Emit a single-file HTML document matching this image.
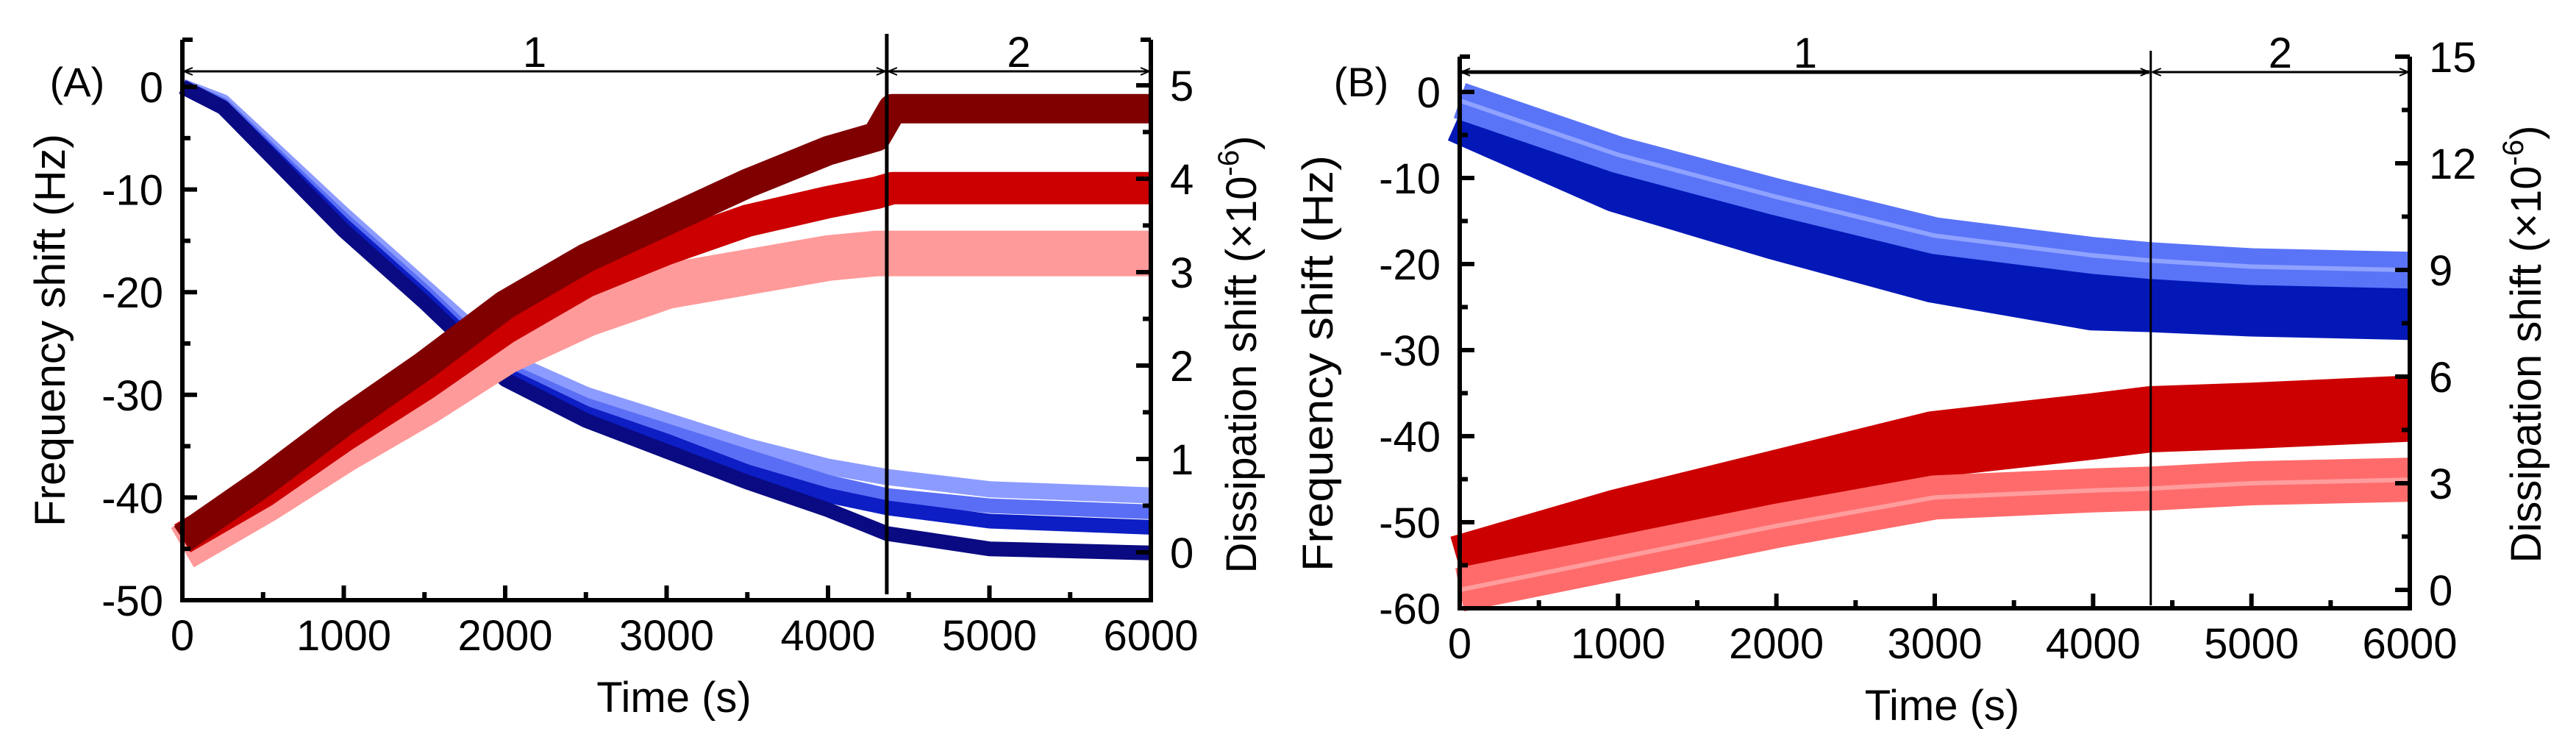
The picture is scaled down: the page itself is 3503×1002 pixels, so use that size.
<!DOCTYPE html>
<html><head><meta charset="utf-8"><style>
html,body{margin:0;padding:0;background:#fff}
svg{display:block}
text{font-family:"Liberation Sans",Arial,sans-serif;fill:#000}
</style></head><body>
<svg id="fig" width="3503" height="1002" viewBox="0 0 3503 1002" xmlns="http://www.w3.org/2000/svg"></svg>
<script>
// ---------- Panel A data ----------
const tA_F = [0,250,1000,1500,2000,2500,3000,3500,4000,4364,5000,6000];
const fA_light = [0,-1.5,-12.5,-19.5,-26.5,-30,-32.5,-35,-37,-38,-39.2,-39.8];
const fA_medium = [0,-1.8,-13,-20,-27.5,-31,-33.5,-36,-38.5,-39.8,-40.8,-41.4];
const fA_dark = [0,-2,-13.5,-20.5,-28,-31.8,-34.5,-37.5,-39.8,-41,-42.3,-42.9];
const fA_navy = [0,-2,-14,-21,-28.5,-32.5,-35.5,-38.5,-41.2,-43.5,-45,-45.4];
const tA_D = [0,500,1000,1500,2000,2500,3000,3500,4000,4300,4400,5000,6000];
const dA_darkred = [0.15,0.75,1.4,2.0,2.65,3.15,3.55,3.95,4.3,4.45,4.75,4.75,4.75];
const dA_red = [0.15,0.65,1.25,1.8,2.4,2.9,3.25,3.55,3.75,3.85,3.9,3.9,3.9];
const dA_pink = [0.05,0.55,1.1,1.6,2.15,2.55,2.85,3.0,3.15,3.2,3.2,3.2,3.2];
// ---------- Panel B data ----------
const tB = [0,1000,2000,3000,4000,4364,5000,6000];
const fB_light = [-1,-7.3,-12.2,-16.7,-19,-19.6,-20.3,-20.7];
const fB_dark = [-2.5,-10.6,-16.1,-21.1,-24.3,-24.5,-25,-25.4];
const dB_red = [0.6,1.9,3.0,4.1,4.6,4.8,4.9,5.1];
const dB_pink = [0,0.9,1.8,2.6,2.8,2.85,3.0,3.1];
// ticks
const xTicks = [0,1000,2000,3000,4000,5000,6000];
const fTicksA = [0,-10,-20,-30,-40,-50];
const dTicksA = [0,1,2,3,4,5];
const fTicksB = [0,-10,-20,-30,-40,-50,-60];
const dTicksB = [0,3,6,9,12,15];
const stageLine = 4364;

const NS="http://www.w3.org/2000/svg";
const svg=document.getElementById('fig');
function el(tag,attrs,parent){const e=document.createElementNS(NS,tag);for(const k in attrs)e.setAttribute(k,attrs[k]);(parent||svg).appendChild(e);return e;}
function txt(s,x,y,size,anchor,parent){const t=el('text',{x:x,y:y,'font-size':size,'text-anchor':anchor||'middle'},parent);t.textContent=s;return t;}

function panel(cfg){
  const g=el('g',{});
  
  
  const X=t=>cfg.x0+(cfg.x1-cfg.x0)*t/6000;
  const YF=v=>cfg.fy0+(cfg.fy1-cfg.fy0)*(v-cfg.f0)/(cfg.f1-cfg.f0);
  const YD=v=>cfg.dy0+(cfg.dy1-cfg.dy0)*(v-cfg.d0)/(cfg.d1-cfg.d0);
  // series
  cfg.series.forEach(s=>{
    const Y=s.axis==='f'?YF:YD;
    const pts=s.t.map((t,i)=>X(t).toFixed(1)+','+Y(s.v[i]).toFixed(1)).join(' ');
    const p=el('polyline',{points:pts,fill:'none',stroke:s.color,'stroke-width':s.w,'stroke-linejoin':'round','stroke-linecap':'butt'},g);
    
    
    if(s.center){const c=el('polyline',{points:pts,fill:'none',stroke:s.center,'stroke-width':6},g);
      
      }
  });
  // stage line
  const sx=X(stageLine);
  const vl=el('line',{x1:sx,x2:sx,y1:cfg.top-8,y2:cfg.bottom-(cfg.name==='panel-a'?8:4),stroke:'#000','stroke-width':cfg.name==='panel-a'?5:3},g);
  
  
  // arrows
  const ay=cfg.arrowY;
  [[cfg.x0,sx,'1'],[sx,cfg.x1,'2']].forEach(([a,b,lab])=>{
    const l=el('line',{x1:a+2,x2:b-2,y1:ay,y2:ay,stroke:'#000','stroke-width':lab==='1'&&cfg.name==='panel-b'?5:3},g);
    
    
    el('path',{d:`M${a+2},${ay} l12,-5 M${a+2},${ay} l12,5 M${b-2},${ay} l-12,-5 M${b-2},${ay} l-12,5`,stroke:'#000','stroke-width':2,fill:'none'},g);
    const t=txt(lab,(a+b)/2,ay-6,58,'middle',g);
    
    
  });
  // axes frame (left, bottom, right)
  const ax=el('path',{d:`M${cfg.x0},${cfg.top} V${cfg.bottom} H${cfg.x1} V${cfg.top}`,fill:'none',stroke:'#000','stroke-width':6},g);
  
  
  el('line',{x1:cfg.x0,x2:cfg.x0+14,y1:cfg.top,y2:cfg.top,stroke:'#000','stroke-width':6},g);
  el('line',{x1:cfg.x1,x2:cfg.x1-14,y1:cfg.top,y2:cfg.top,stroke:'#000','stroke-width':6},g);
  // x ticks
  xTicks.forEach((t,i)=>{
    const x=X(t);
    el('line',{x1:x,x2:x,y1:cfg.bottom,y2:cfg.bottom-20,stroke:'#000','stroke-width':6},g);
    if(i<xTicks.length-1){const xm=X(t+500);el('line',{x1:xm,x2:xm,y1:cfg.bottom,y2:cfg.bottom-11,stroke:'#000','stroke-width':6},g);}
    const lb=txt(String(t),x,cfg.bottom+68,58,'middle',g);
    
    
  });
  // left ticks
  cfg.fTicks.forEach((v,i)=>{
    const y=YF(v);
    el('line',{x1:cfg.x0,x2:cfg.x0+20,y1:y,y2:y,stroke:'#000','stroke-width':6},g);
    if(i<cfg.fTicks.length-1){const ym=YF(v-5);el('line',{x1:cfg.x0,x2:cfg.x0+11,y1:ym,y2:ym,stroke:'#000','stroke-width':6},g);}
    const lb=txt(String(v),cfg.x0-26,y+21,58,'end',g);
    
    
  });
  // right ticks
  const dstep=cfg.dTicks[1]-cfg.dTicks[0];
  cfg.dTicks.forEach((v,i)=>{
    const y=YD(v);
    el('line',{x1:cfg.x1,x2:cfg.x1-20,y1:y,y2:y,stroke:'#000','stroke-width':6},g);
    if(i<cfg.dTicks.length-1){const ym=YD(v+dstep/2);el('line',{x1:cfg.x1,x2:cfg.x1-11,y1:ym,y2:ym,stroke:'#000','stroke-width':6},g);}
    const lb=txt(String(v),cfg.x1+26,y+21,58,'start',g);
    
    
  });
  // titles
  const xt=txt('Time (s)',(cfg.x0+cfg.x1)/2+10,cfg.bottom+152,58,'middle',g);
  
  
  const lt=el('text',{x:0,y:0,'font-size':58,'text-anchor':'middle',transform:`translate(${cfg.ltX},${cfg.ltY}) rotate(-90)`,textLength:cfg.ltLen,lengthAdjust:'spacingAndGlyphs'},g);
  lt.textContent='Frequency shift (Hz)';
  
  
  const rt=el('text',{x:0,y:0,'font-size':58,'text-anchor':'middle',transform:`translate(${cfg.rtX},${cfg.rtY}) rotate(-90)`},g);
  
  
  const s1=el('tspan',{},rt); s1.textContent='Dissipation shift (\u00d710';
  const s2=el('tspan',{dy:-24,'font-size':40},rt); s2.textContent='-6';
  const s3=el('tspan',{dy:24},rt); s3.textContent=')';
  const pl=txt(cfg.label,cfg.labX,cfg.labY,56,'middle',g);
  
  
}

panel({name:'panel-a',label:'(A)',labX:105,labY:131,x0:248,x1:1565,top:54,bottom:816,
  f0:0,f1:-50,fy0:118,fy1:816,d0:0,d1:5,dy0:751,dy1:116,arrowY:97,
  fTicks:fTicksA,dTicks:dTicksA,ltX:88,ltY:449,ltLen:534,rtX:1708,rtY:482,
  series:[
    {name:'freq-light',axis:'f',t:tA_F,v:fA_light,color:'#8c9bff',w:22},
    {name:'freq-medium',axis:'f',t:tA_F,v:fA_medium,color:'#5a6ef5',w:20},
    {name:'freq-dark',axis:'f',t:tA_F,v:fA_dark,color:'#0c1ec4',w:20},
    {name:'freq-navy',axis:'f',t:tA_F,v:fA_navy,color:'#0a0a82',w:20},
    {name:'diss-pink',axis:'d',t:tA_D,v:dA_pink,color:'#ff9a9a',w:62},
    {name:'diss-red',axis:'d',t:tA_D,v:dA_red,color:'#cc0000',w:44},
    {name:'diss-darkred',axis:'d',t:tA_D,v:dA_darkred,color:'#800000',w:40}
  ]});
panel({name:'panel-b',label:'(B)',labX:1851,labY:131,x0:1985,x1:3277,top:77,bottom:827,
  f0:0,f1:-60,fy0:125,fy1:827,d0:0,d1:15,dy0:802,dy1:77,arrowY:98,
  fTicks:fTicksB,dTicks:dTicksB,ltX:1812,ltY:494,ltLen:566,rtX:3455,rtY:468,
  series:[
    {name:'freq-dark',axis:'f',t:tB,v:fB_dark,color:'#0418b8',w:80},
    {name:'freq-light',axis:'f',t:tB,v:fB_light,color:'#5a74f8',w:50,center:'#8fa2ff'},
    {name:'diss-red',axis:'d',t:tB,v:dB_red,color:'#cc0000',w:90},
    {name:'diss-pink',axis:'d',t:tB,v:dB_pink,color:'#ff6b6b',w:60,center:'#ff9d9d'}
  ]});
</script>
</body></html>
